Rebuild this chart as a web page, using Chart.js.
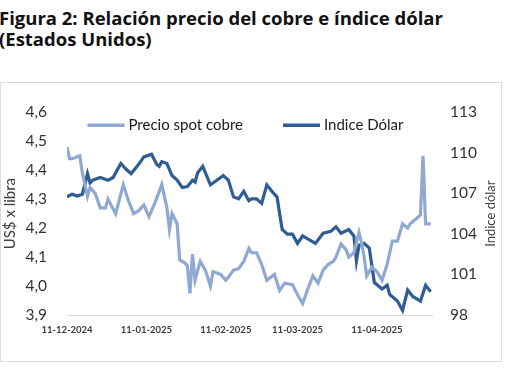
<!DOCTYPE html>
<html>
<head>
<meta charset="utf-8">
<script src="https://cdn.jsdelivr.net/npm/chart.js@4.4.1/dist/chart.umd.min.js"></script>
<style>
  html, body { margin: 0; padding: 0; background: #fff; width: 510px; height: 382px; overflow: hidden; }
  #title { position: absolute; left: -1px; top: 7px; font-family: "Open Sans", Lato, sans-serif; font-weight: bold; font-size: 18.5px; line-height: 21px; color: #111; white-space: nowrap; }
  #box { position: absolute; left: 0; top: 82px; width: 502px; height: 280px; border: 1px solid #dcdcdc; box-sizing: border-box; }
  #box canvas { position: absolute; left: 0; top: 0; }
</style>
</head>
<body>
<div id="title">Figura 2: Relación precio del cobre e índice dólar<br>(Estados Unidos)</div>
<div id="box"><canvas id="c" width="500" height="278"></canvas></div>
<script>
// ---- Data ----
const copperLabel = 'Precio spot cobre';
const dollarLabel = 'Indice Dólar';

const copperDates = ['2024-12-11','2024-12-12','2024-12-13','2024-12-16','2024-12-17','2024-12-19','2024-12-20','2024-12-22','2024-12-24','2024-12-26','2024-12-27','2024-12-30',
  '2025-01-02','2025-01-04','2025-01-06','2025-01-08','2025-01-10','2025-01-12','2025-01-14','2025-01-17','2025-01-19','2025-01-20','2025-01-21','2025-01-23','2025-01-24','2025-01-26','2025-01-27','2025-01-28','2025-01-29','2025-01-30',
  '2025-02-01','2025-02-03','2025-02-05','2025-02-06','2025-02-09','2025-02-11','2025-02-12','2025-02-14','2025-02-16','2025-02-18','2025-02-20','2025-02-21','2025-02-23','2025-02-25','2025-02-27',
  '2025-03-02','2025-03-04','2025-03-06','2025-03-09','2025-03-11','2025-03-13','2025-03-15','2025-03-17','2025-03-19','2025-03-21','2025-03-23','2025-03-25','2025-03-26','2025-03-28','2025-03-30','2025-03-31',
  '2025-04-02','2025-04-04','2025-04-05','2025-04-06','2025-04-07','2025-04-09','2025-04-11','2025-04-13','2025-04-15','2025-04-17','2025-04-19','2025-04-21','2025-04-23','2025-04-24','2025-04-26','2025-04-28','2025-04-29','2025-04-30','2025-05-02'];
const copperValues = [4.48,4.44,4.44,4.45,4.39,4.31,4.34,4.32,4.27,4.27,4.30,4.25,
  4.35,4.295,4.25,4.26,4.28,4.24,4.28,4.35,4.27,4.195,4.25,4.215,4.09,4.08,4.07,3.975,4.11,4.02,
  4.085,4.055,4.00,4.05,4.04,4.02,4.03,4.055,4.06,4.085,4.13,4.115,4.115,4.075,4.02,
  4.04,3.985,4.01,4.005,3.97,3.94,3.99,4.035,4.01,4.055,4.075,4.085,4.10,4.145,4.125,4.10,
  4.115,4.185,4.15,4.10,4.035,4.065,4.05,4.02,4.075,4.155,4.155,4.215,4.20,4.215,4.23,4.245,4.45,4.215,4.215];

const dollarDates = ['2024-12-11','2024-12-13','2024-12-15','2024-12-17','2024-12-19','2024-12-20','2024-12-21','2024-12-24','2024-12-27','2024-12-29',
  '2025-01-01','2025-01-03','2025-01-05','2025-01-08','2025-01-10','2025-01-13','2025-01-15','2025-01-16','2025-01-17','2025-01-19','2025-01-21','2025-01-23','2025-01-25','2025-01-27','2025-01-29','2025-01-30','2025-01-31',
  '2025-02-02','2025-02-05','2025-02-06','2025-02-09','2025-02-10','2025-02-12','2025-02-14','2025-02-16','2025-02-18','2025-02-20','2025-02-21','2025-02-23','2025-02-25','2025-02-27',
  '2025-03-01','2025-03-03','2025-03-05','2025-03-07','2025-03-09','2025-03-11','2025-03-13','2025-03-15','2025-03-18','2025-03-21','2025-03-24','2025-03-26','2025-03-28','2025-03-31',
  '2025-04-02','2025-04-03','2025-04-04','2025-04-06','2025-04-08','2025-04-10','2025-04-13','2025-04-15','2025-04-16','2025-04-19','2025-04-21','2025-04-23','2025-04-25','2025-04-28','2025-04-30','2025-05-02'];
const dollarValues = [106.74,106.94,106.8,106.94,108.46,107.77,107.98,108.18,107.98,108.18,
  109.21,108.8,108.46,109.15,109.7,109.9,109.15,109.0,109.35,109.21,108.32,107.98,107.43,107.5,107.98,107.84,108.53,
  109.0,107.63,107.77,108.18,108.32,107.98,106.74,106.6,107.15,106.46,106.6,106.6,106.26,107.63,
  107.15,106.74,104.33,103.98,103.98,103.3,103.85,103.64,103.3,104.05,104.19,104.53,104.05,104.33,
  103.85,101.99,103.16,103.3,102.95,100.4,99.92,100.2,99.51,99.03,98.34,99.85,99.37,99.03,100.2,99.72];

const xTickLabels = ['11-12-2024','11-01-2025','11-02-2025','11-03-2025','11-04-2025'];
const xEndDate = '2025-05-02';
const leftAxisTitle = 'US$ x libra';
const rightAxisTitle = 'Indice dólar';

// ---- helpers ----
function dayNum(y, m, d) { return Date.UTC(y, m - 1, d) / 86400000; }
function isoDay(s) { const [y, m, d] = s.split('-').map(Number); return dayNum(y, m, d); }
function dmyDay(s) { const [d, m, y] = s.split('-').map(Number); return dayNum(y, m, d); }
const day0 = dmyDay(xTickLabels[0]);
const toPoints = (dates, vals) => dates.map((s, i) => ({ x: isoDay(s) - day0, y: vals[i] }));
const xTickDays = xTickLabels.map(l => dmyDay(l) - day0);
const xMax = isoDay(xEndDate) - day0 + 0.5;

const FONT = 'Lato, "Liberation Sans", sans-serif';
const copperColor = '#8FA9D3';
const dollarColor = '#2F5C93';

const rightTitlePlugin = {
  id: 'rightTitle',
  afterDraw(chart) {
    const ctx = chart.ctx, a = chart.chartArea;
    ctx.save();
    ctx.translate(chart.width - 10, (a.top + a.bottom) / 2);
    ctx.rotate(-Math.PI / 2);
    ctx.font = '13px ' + FONT;
    ctx.fillStyle = '#404040';
    ctx.textAlign = 'center';
    ctx.textBaseline = 'middle';
    ctx.fillText(rightAxisTitle, 0, 0);
    ctx.restore();
  }
};

// Line-sample legend inside the plot area, built from the datasets
const lineLegend = {
  id: 'lineLegend',
  afterDraw(chart) {
    const ctx = chart.ctx, a = chart.chartArea;
    const sample = 37, textGap = 4, itemGap = 40;
    ctx.save();
    ctx.font = '15px ' + FONT;
    const items = chart.data.datasets.map(ds => ({ text: ds.label, color: ds.borderColor, w: ctx.measureText(ds.label).width }));
    const total = items.reduce((s, it) => s + sample + textGap + it.w, 0) + itemGap * (items.length - 1);
    let x = (a.left + a.right) / 2 - 4 - total / 2;
    const y = a.top + 13;
    items.forEach(it => {
      ctx.strokeStyle = it.color;
      ctx.lineWidth = 3.5;
      ctx.beginPath();
      ctx.moveTo(x, y);
      ctx.lineTo(x + sample, y);
      ctx.stroke();
      ctx.fillStyle = '#1a1a1a';
      ctx.textAlign = 'left';
      ctx.textBaseline = 'middle';
      ctx.fillText(it.text, x + sample + textGap, y);
      x += sample + textGap + it.w + itemGap;
    });
    ctx.restore();
  }
};

new Chart(document.getElementById('c'), {
  type: 'line',
  data: {
    datasets: [
      { label: copperLabel, data: toPoints(copperDates, copperValues), yAxisID: 'y', borderColor: copperColor, backgroundColor: copperColor, borderWidth: 3.2, pointRadius: 0, tension: 0 },
      { label: dollarLabel, data: toPoints(dollarDates, dollarValues), yAxisID: 'y1', borderColor: dollarColor, backgroundColor: dollarColor, borderWidth: 3.2, pointRadius: 0, tension: 0 }
    ]
  },
  options: {
    responsive: false,
    animation: false,
    layout: { padding: { top: 14, left: 0, right: 0, bottom: 0 } },
    plugins: {
      title: { display: false },
      tooltip: { enabled: false },
      legend: { display: false }
    },
    scales: {
      x: {
        type: 'linear', min: 0, max: xMax,
        grid: { display: false, drawTicks: false },
        border: { display: true, color: '#d9d9d9', width: 1 },
        afterBuildTicks(scale) { scale.ticks = xTickDays.map(v => ({ value: v })); },
        afterFit(scale) { scale.height = 46; },
        ticks: {
          autoSkip: false, maxRotation: 0, padding: 9,
          color: '#3a3a3a', font: { family: FONT, size: 9.5, weight: 'bold' },
          callback(v) { const i = xTickDays.indexOf(v); return i >= 0 ? xTickLabels[i] : ''; }
        }
      },
      y: {
        position: 'left', min: 3.9, max: 4.6,
        grid: { display: false, drawTicks: false },
        border: { display: false },
        afterFit(scale) { scale.width = 66; },
        ticks: { stepSize: 0.1, padding: 20, color: '#333', font: { family: FONT, size: 15.5 },
          callback(v) { return v.toFixed(1).replace('.', ','); } },
        title: { display: true, text: leftAxisTitle, color: '#404040', font: { family: FONT, size: 15 }, padding: { top: 0, bottom: 0 } }
      },
      y1: {
        position: 'right', min: 98, max: 113,
        grid: { display: false, drawTicks: false },
        border: { display: false },
        afterFit(scale) { scale.width = 69; },
        ticks: { stepSize: 3, padding: 18, color: '#333', font: { family: FONT, size: 15.5 } }
      }
    }
  },
  plugins: [rightTitlePlugin, lineLegend]
});
</script>
</body>
</html>
